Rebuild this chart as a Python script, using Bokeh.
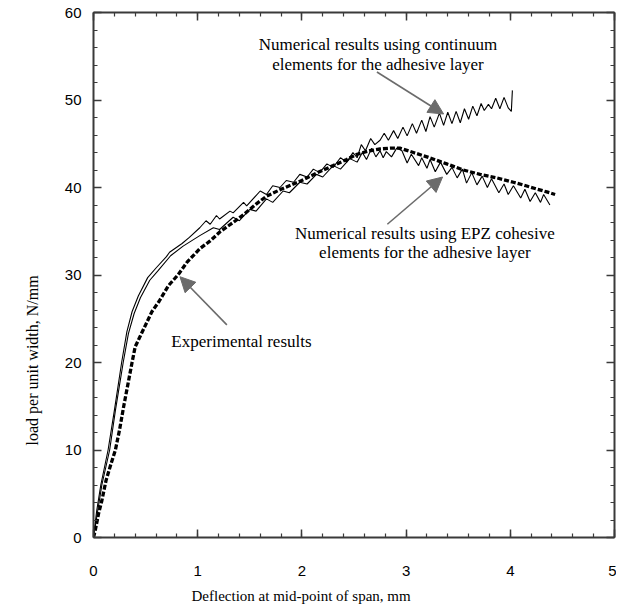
from bokeh.plotting import figure
from bokeh.models import (Range1d, LinearAxis, SingleIntervalTicker, Label, Arrow,
                          NormalHead, CustomJSTickFormatter, Title)
from bokeh.embed import file_html
from bokeh.resources import INLINE

# ---------------- data ----------------
cont_x = [0, 0.03, 0.07, 0.14, 0.20, 0.27, 0.32, 0.37, 0.43, 0.52, 0.60, 0.70, 0.73, 0.85, 0.92,
          1.02, 1.08, 1.12, 1.18, 1.21, 1.31, 1.34, 1.44, 1.47, 1.60, 1.66, 1.72, 1.79, 1.85, 1.92,
          1.98, 2.05, 2.11, 2.17, 2.24, 2.30, 2.37, 2.43, 2.49, 2.53, 2.57, 2.61, 2.66, 2.70,
          2.75, 2.79, 2.83, 2.88, 2.92, 2.97, 3.01, 3.06, 3.10, 3.15, 3.19, 3.23, 3.27, 3.32, 3.36,
          3.40, 3.44, 3.48, 3.52, 3.56, 3.60, 3.64, 3.68, 3.72, 3.75, 3.79, 3.82, 3.86, 3.90, 3.94,
          3.98, 4.01, 4.02]
cont_y = [0, 3.0, 6.0, 10.0, 14.5, 20.0, 23.5, 25.8, 27.6, 29.7, 30.8, 32.1, 32.6, 33.6, 34.3,
          35.4, 36.2, 35.8, 36.8, 36.4, 37.3, 37.1, 38.3, 37.9, 39.6, 39.2, 40.2, 40.0, 40.8, 40.6,
          41.5, 41.2, 42.1, 41.7, 42.7, 42.3, 43.4, 42.9, 44.0, 43.4, 44.9, 44.2, 45.6, 44.9,
          45.4, 46.2, 45.4, 46.5, 45.6, 46.9, 45.9, 47.3, 46.2, 47.7, 46.4, 48.1, 46.9, 48.5, 47.1,
          48.6, 47.3, 48.7, 47.4, 49.0, 47.8, 49.3, 48.2, 49.6, 48.8, 49.5, 49.0, 50.2, 49.0, 50.3,
          49.1, 48.7, 51.1]

epz_x = [0, 0.04, 0.08, 0.155, 0.21, 0.285, 0.335, 0.39, 0.45, 0.54, 0.62, 0.74, 0.86, 0.94,
         1.02, 1.15, 1.21, 1.34, 1.40, 1.50, 1.56, 1.66, 1.72, 1.82, 1.88, 1.98, 2.05, 2.14, 2.20,
         2.30, 2.37, 2.46, 2.53, 2.58, 2.62, 2.67, 2.71, 2.75, 2.78, 2.81, 2.86, 2.91, 2.96, 3.01,
         3.05, 3.12, 3.15, 3.20, 3.23, 3.28, 3.33, 3.39, 3.44, 3.49, 3.54, 3.58, 3.63, 3.68, 3.73,
         3.78, 3.82, 3.89, 3.94, 3.98, 4.03, 4.10, 4.14, 4.19, 4.24, 4.29, 4.32, 4.38]
epz_y = [0, 3.0, 6.0, 10.0, 14.5, 20.0, 23.3, 25.6, 27.4, 29.4, 30.5, 32.2, 33.3, 33.9,
         34.5, 35.4, 35.2, 36.6, 36.2, 37.5, 37.3, 38.7, 38.3, 39.6, 39.4, 40.6, 40.4, 41.5, 41.2,
         42.5, 42.1, 43.3, 42.9, 44.0, 43.2, 44.5, 43.5, 44.2, 43.4, 44.1, 43.5, 44.5, 44.2, 42.8,
         43.8, 42.5, 43.4, 42.2, 43.2, 41.8, 42.9, 41.5, 42.3, 41.1, 42.1, 40.5, 41.7, 40.3, 41.3,
         40.0, 41.0, 39.4, 40.4, 39.2, 40.2, 38.8, 39.8, 38.4, 39.4, 38.3, 39.2, 38.0]

exp_x = [0, 0.02, 0.05, 0.08, 0.12, 0.17, 0.21, 0.25, 0.29, 0.33, 0.37, 0.40, 0.44, 0.50, 0.56,
         0.63, 0.72, 0.81, 0.90, 1.02, 1.12, 1.22, 1.34, 1.45, 1.56, 1.66, 1.80, 1.98, 2.15, 2.30,
         2.43, 2.53, 2.65, 2.75, 2.85, 2.94, 3.07, 3.20, 3.39, 3.55, 3.71, 3.87, 4.03, 4.15, 4.26,
         4.35, 4.43]
exp_y = [0, 1.0, 2.8, 4.2, 6.5, 8.5, 10.0, 12.3, 15.0, 17.5, 20.0, 21.8, 22.8, 24.3, 25.8,
         27.0, 28.8, 30.0, 31.5, 33.0, 33.9, 35.0, 36.0, 37.0, 38.1, 39.0, 39.8, 40.7, 41.7, 42.5,
         43.2, 43.8, 44.2, 44.4, 44.5, 44.5, 44.0, 43.5, 42.7, 42.0, 41.5, 41.1, 40.6, 40.2, 39.8,
         39.5, 39.2]

x_label = "Deflection at mid-point of span, mm"
y_label = "load per unit width, N/mm"

SERIF = "Liberation Serif"
SANS = "Liberation Sans"
FRAME = "#3a3a3a"
ARROW = "#6b6b6b"

p = figure(width=616, height=614, output_backend="svg", toolbar_location=None,
           x_range=Range1d(0, 5), y_range=Range1d(0, 60),
           min_border_left=93, min_border_right=2, min_border_top=12, min_border_bottom=77)
p.grid.visible = False
p.outline_line_color = None
p.background_fill_color = "white"
p.border_fill_color = "white"

xt = SingleIntervalTicker(interval=1, num_minor_ticks=5)
yt = SingleIntervalTicker(interval=10, num_minor_ticks=5)

def style(ax, labels=True):
    ax.axis_line_color = FRAME
    ax.axis_line_width = 2
    ax.major_tick_line_color = FRAME
    ax.minor_tick_line_color = FRAME
    ax.major_tick_line_width = 1.5
    ax.minor_tick_line_width = 1.2
    ax.major_tick_in = 8
    ax.major_tick_out = 0
    ax.minor_tick_in = 4
    ax.minor_tick_out = 0
    if labels:
        ax.major_label_text_font = SANS
        ax.major_label_text_font_size = "15px"
        ax.major_label_text_color = "black"
    else:
        ax.formatter = CustomJSTickFormatter(code="return ''")
        ax.major_label_text_font_size = "0px"
        ax.major_label_standoff = 0

xa = p.xaxis[0]
xa.ticker = xt
style(xa)
xa.major_label_standoff = 28

ya = p.yaxis[0]
ya.ticker = yt
style(ya)
ya.major_label_standoff = 12

top = LinearAxis(ticker=xt)
style(top, labels=False)
p.add_layout(top, "above")
right = LinearAxis(ticker=yt)
style(right, labels=False)
p.add_layout(right, "right")

# axis titles, placed off-centre as in the reference
p.add_layout(Title(text=x_label, align="left", offset=98, standoff=14,
                   text_font=SERIF, text_font_style="normal", text_font_size="15px",
                   text_color="black"), "below")
p.add_layout(Title(text=y_label, align="left", offset=92, standoff=42,
                   text_font=SERIF, text_font_style="normal", text_font_size="16px",
                   text_color="black"), "left")

# curves
p.line(cont_x, cont_y, line_color="black", line_width=1.1)
p.line(epz_x, epz_y, line_color="black", line_width=1.1)
p.line(exp_x, exp_y, line_color="black", line_width=3.3, line_dash="5 2")

# annotations
def lab(x, y, t, size="17px"):
    p.add_layout(Label(x=x, y=y, text=t, text_align="center", text_baseline="middle",
                       text_font=SERIF, text_font_style="normal",
                       text_font_size=size, text_color="black"))

lab(2.73, 56.3, "Numerical results using continuum")
lab(2.73, 54.1, "elements for the adhesive layer")
lab(3.18, 34.8, "Numerical results using EPZ cohesive")
lab(3.18, 32.6, "elements for the adhesive layer")
lab(1.42, 22.4, "Experimental results")

def arrow(x0, y0, x1, y1):
    p.add_layout(Arrow(end=NormalHead(size=15, fill_color=ARROW, line_color=ARROW),
                       x_start=x0, y_start=y0, x_end=x1, y_end=y1,
                       line_color=ARROW, line_width=1.6))

arrow(2.72, 53.2, 3.36, 48.4)
arrow(2.82, 35.8, 3.35, 41.2)
arrow(1.28, 24.3, 0.83, 29.8)

open("out.html", "w").write(file_html(p, INLINE))
